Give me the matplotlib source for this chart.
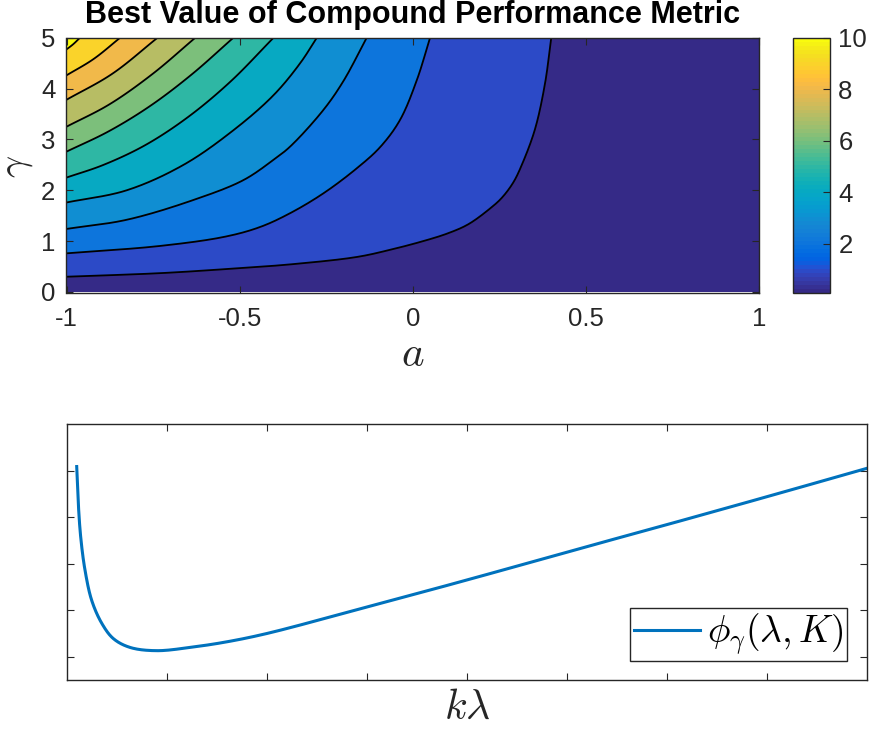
import numpy as np
import matplotlib
matplotlib.use("Agg")
import matplotlib.pyplot as plt
from matplotlib.colors import ListedColormap, Normalize
from matplotlib.patches import Polygon
import matplotlib.cm as cm

plt.rcParams['font.family'] = ['Liberation Sans', 'DejaVu Sans']
plt.rcParams['mathtext.fontset'] = 'cm'

PARULA = [
    [0.2081, 0.1663, 0.5292], [0.2116, 0.1898, 0.5777], [0.2123, 0.2138, 0.6270], [0.2081, 0.2386, 0.6771],
    [0.1959, 0.2645, 0.7279], [0.1707, 0.2919, 0.7792], [0.1253, 0.3242, 0.8303], [0.0591, 0.3598, 0.8683],
    [0.0117, 0.3875, 0.8820], [0.0060, 0.4086, 0.8828], [0.0165, 0.4266, 0.8786], [0.0329, 0.4430, 0.8720],
    [0.0498, 0.4586, 0.8641], [0.0629, 0.4737, 0.8554], [0.0723, 0.4887, 0.8467], [0.0779, 0.5040, 0.8384],
    [0.0793, 0.5200, 0.8312], [0.0749, 0.5375, 0.8263], [0.0641, 0.5570, 0.8240], [0.0488, 0.5772, 0.8228],
    [0.0343, 0.5966, 0.8199], [0.0265, 0.6137, 0.8135], [0.0239, 0.6287, 0.8038], [0.0231, 0.6418, 0.7913],
    [0.0228, 0.6535, 0.7768], [0.0267, 0.6642, 0.7607], [0.0384, 0.6743, 0.7436], [0.0590, 0.6838, 0.7254],
    [0.0843, 0.6928, 0.7062], [0.1133, 0.7015, 0.6859], [0.1453, 0.7098, 0.6646], [0.1801, 0.7177, 0.6424],
    [0.2178, 0.7250, 0.6193], [0.2586, 0.7317, 0.5954], [0.3022, 0.7376, 0.5712], [0.3482, 0.7424, 0.5473],
    [0.3953, 0.7459, 0.5244], [0.4420, 0.7481, 0.5033], [0.4871, 0.7491, 0.4840], [0.5300, 0.7491, 0.4661],
    [0.5709, 0.7485, 0.4494], [0.6099, 0.7473, 0.4337], [0.6473, 0.7456, 0.4188], [0.6834, 0.7435, 0.4044],
    [0.7184, 0.7411, 0.3905], [0.7525, 0.7384, 0.3768], [0.7858, 0.7356, 0.3633], [0.8185, 0.7327, 0.3498],
    [0.8507, 0.7299, 0.3360], [0.8824, 0.7274, 0.3217], [0.9139, 0.7258, 0.3063], [0.9450, 0.7261, 0.2886],
    [0.9739, 0.7314, 0.2666], [0.9938, 0.7455, 0.2403], [0.9990, 0.7653, 0.2164], [0.9955, 0.7861, 0.1967],
    [0.9880, 0.8066, 0.1794], [0.9789, 0.8271, 0.1633], [0.9697, 0.8481, 0.1475], [0.9626, 0.8705, 0.1309],
    [0.9589, 0.8949, 0.1132], [0.9598, 0.9218, 0.0948], [0.9661, 0.9514, 0.0755], [0.9763, 0.9831, 0.0538],
]

# ---------------- data: top panel (contour levels) ----------------
title_text = "Best Value of Compound Performance Metric"
cbar_min, cbar_max = 0.09, 10.0
cbar_ticks = [2, 4, 6, 8, 10]
levels = [1, 2, 3, 4, 5, 6, 7, 8, 9, 10]

L1_a = [-1.0, -0.73, -0.54, -0.35, -0.16, -0.065, 0.03, 0.10, 0.16, 0.223, 0.257, 0.29, 0.315, 0.353, 0.382, 0.40]
L1_g = [0.30, 0.37, 0.45, 0.545, 0.69, 0.83, 1.00, 1.15, 1.33, 1.64, 1.85, 2.15, 2.50, 3.20, 4.10, 5.0]
L2_a = [-1.0, -0.73, -0.54, -0.44, -0.354, -0.258, -0.162, -0.094, -0.037, 0.012, 0.05]
L2_g = [0.76, 0.905, 1.09, 1.28, 1.55, 1.94, 2.43, 2.85, 3.38, 4.17, 5.0]
L3_a = [-1.0, -0.826, -0.633, -0.489, -0.402, -0.354, -0.258, -0.20, -0.133]
L3_g = [1.24, 1.42, 1.81, 2.20, 2.60, 2.86, 3.58, 4.15, 5.0]
L4_a = [-1.0, -0.826, -0.662, -0.518, -0.402, -0.325, -0.277]
L4_g = [1.76, 2.00, 2.50, 3.18, 3.87, 4.50, 5.0]
L5_a = [-1.0, -0.893, -0.772, -0.649, -0.526, -0.402]
L5_g = [2.25, 2.50, 2.89, 3.44, 4.14, 5.0]
L6_a = [-1.0, -0.878, -0.758, -0.638, -0.518]
L6_g = [2.76, 3.16, 3.66, 4.28, 5.0]
L7_a = [-1.0, -0.876, -0.751, -0.628]
L7_g = [3.25, 3.69, 4.29, 5.0]
L8_a = [-1.0, -0.868, -0.737]
L8_g = [3.78, 4.29, 5.0]
L9_a = [-1.0, -0.922, -0.845]
L9_g = [4.26, 4.58, 5.0]
L10_a = [-1.0, -0.981, -0.961]
L10_g = [4.77, 4.87, 5.0]
contour_a = [L1_a, L2_a, L3_a, L4_a, L5_a, L6_a, L7_a, L8_a, L9_a, L10_a]
contour_g = [L1_g, L2_g, L3_g, L4_g, L5_g, L6_g, L7_g, L8_g, L9_g, L10_g]

a_ticks = [-1, -0.5, 0, 0.5, 1]
a_ticklabels = ["-1", "-0.5", "0", "0.5", "1"]
g_ticks = [0, 1, 2, 3, 4, 5]

# ---------------- data: bottom panel ----------------
k_lambda = [0.097, 0.113, 0.137, 0.18, 0.247, 0.347, 0.463, 0.63, 0.897, 1.263, 1.597,
            2.0, 3.0, 4.0, 5.0, 6.0, 7.0, 8.0]
phi = [5.086, 4.29, 3.57, 2.86, 2.21, 1.72, 1.39, 1.20, 1.13, 1.21, 1.32,
       1.50, 2.07, 2.65, 3.25, 3.84, 4.44, 5.05]
legend_label = r"$\phi_\gamma(\lambda,K)$"


def smooth(xs, ys, sx, sy, n=24):
    """Centripetal Catmull-Rom curve through the read points (drawing only)."""
    P = np.column_stack([np.asarray(xs, float) * sx, np.asarray(ys, float) * sy])
    if len(P) < 3:
        return np.asarray(xs, float), np.asarray(ys, float)
    P = np.vstack([2 * P[0] - P[1], P, 2 * P[-1] - P[-2]])
    out = []
    for i in range(1, len(P) - 2):
        p0, p1, p2, p3 = P[i - 1], P[i], P[i + 1], P[i + 2]
        t0 = 0.0
        t1 = t0 + max(np.linalg.norm(p1 - p0), 1e-9) ** 0.5
        t2 = t1 + max(np.linalg.norm(p2 - p1), 1e-9) ** 0.5
        t3 = t2 + max(np.linalg.norm(p3 - p2), 1e-9) ** 0.5
        t = np.linspace(t1, t2, n, endpoint=(i == len(P) - 3))[:, None]
        A1 = (t1 - t) / (t1 - t0) * p0 + (t - t0) / (t1 - t0) * p1
        A2 = (t2 - t) / (t2 - t1) * p1 + (t - t1) / (t2 - t1) * p2
        A3 = (t3 - t) / (t3 - t2) * p2 + (t - t2) / (t3 - t2) * p3
        B1 = (t2 - t) / (t2 - t0) * A1 + (t - t0) / (t2 - t0) * A2
        B2 = (t3 - t) / (t3 - t1) * A2 + (t - t1) / (t3 - t1) * A3
        C = (t2 - t) / (t2 - t1) * B1 + (t - t1) / (t2 - t1) * B2
        out.append(C)
    C = np.vstack(out)
    return C[:, 0] / sx, C[:, 1] / sy


# ---------------- figure ----------------
W, H = 870, 729
fig = plt.figure(figsize=(W / 100, H / 100), dpi=100)
dark = '#262626'

cmap = ListedColormap(PARULA)
norm = Normalize(cbar_min, cbar_max)

ax1 = fig.add_axes([66.5 / W, 1 - 293 / H, (759 - 66.5) / W, (293 - 37.7) / H])
ax1.set_xlim(-1, 1)
ax1.set_ylim(-0.02, 5)

ax1.add_patch(Polygon([(-1, 0), (1, 0), (1, 5), (-1, 5)], closed=True,
                      facecolor=cmap(norm(cbar_min)), edgecolor='none', zorder=1))
curves = [smooth(la, lg, 346.3, 50.86) for la, lg in zip(contour_a, contour_g)]
for lev, (ca, cg) in zip(levels, curves):
    pts = list(zip(ca, cg)) + [(-1, 5)]
    ax1.add_patch(Polygon(pts, closed=True, facecolor=cmap(norm(lev)),
                          edgecolor='none', zorder=1 + lev * 0.01))
for ca, cg in curves:
    ax1.plot(ca, cg, color='black', lw=1.3, zorder=2, solid_capstyle='butt')

ax1.set_xticks(a_ticks)
ax1.set_xticklabels(a_ticklabels)
ax1.set_yticks(g_ticks)
ax1.tick_params(direction='in', length=5, width=0.8, top=True, right=True,
                colors=dark, labelsize=18.5)
ax1.tick_params(axis='x', pad=10)
ax1.tick_params(axis='y', pad=8)
for s in ax1.spines.values():
    s.set_color(dark)
    s.set_linewidth(1.0)
    s.set_zorder(5)
ax1.set_xlabel(r"$a$", fontsize=31, color=dark, labelpad=3)
ax1.set_title(title_text, fontsize=22, fontweight='bold', pad=10.8)
fig.text(17 / W, 1 - 166 / H, r"$\gamma$", rotation=90, fontsize=28, color=dark,
         ha='center', va='center')

cax = fig.add_axes([792.7 / W, 1 - 293 / H, (830 - 792.7) / W, (293 - 37.7) / H])
sm = cm.ScalarMappable(norm=norm, cmap=cmap)
cb = fig.colorbar(sm, cax=cax, ticks=cbar_ticks)
cb.ax.tick_params(direction='in', length=5, width=0.8, colors=dark, labelsize=18.5, pad=6)
cb.outline.set_edgecolor(dark)
cb.outline.set_linewidth(1.0)

ax2 = fig.add_axes([67 / W, 1 - 680 / H, (867.3 - 67) / W, (680 - 424) / H])
kx, ky = smooth(k_lambda, phi, 100.0, 46.67)
ax2.plot(kx, ky, color='#0072BD', lw=2.2, label=legend_label)
ax2.set_xlim(0, 8)
ax2.set_ylim(0.5, 6)
ax2.set_xticks([1, 2, 3, 4, 5, 6, 7])
ax2.set_yticks([1, 2, 3, 4, 5])
ax2.set_xticklabels([])
ax2.set_yticklabels([])
ax2.tick_params(direction='in', length=5, width=0.8, top=True, right=True, colors=dark)
for s in ax2.spines.values():
    s.set_color(dark)
    s.set_linewidth(1.0)
ax2.set_xlabel(r"$k\lambda$", fontsize=30, color=dark, labelpad=2)
leg = ax2.legend(loc='lower right', bbox_to_anchor=(0.975, 0.074), borderaxespad=0,
                 fontsize=27, fancybox=False, handlelength=1.75, handletextpad=0.2,
                 borderpad=0.1, framealpha=1)
leg.get_frame().set_edgecolor(dark)
leg.get_frame().set_linewidth(1.0)

fig.savefig("out.png", dpi=100)
